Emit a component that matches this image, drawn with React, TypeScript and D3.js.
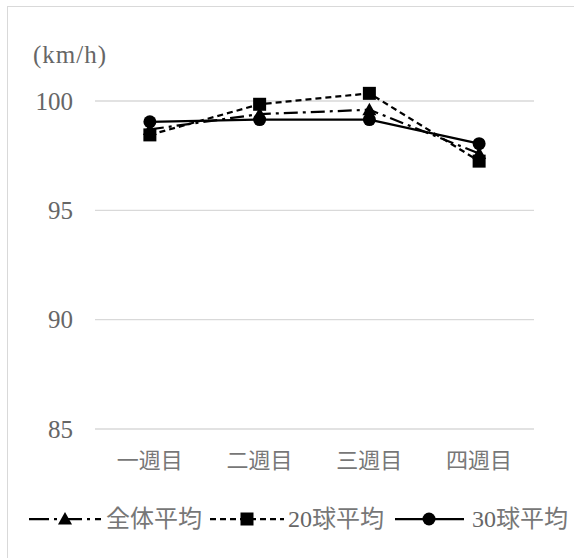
import React from "react";
import * as d3 from "d3";

const categories = ["一週目", "二週目", "三週目", "四週目"];
const seriesNames = ["全体平均", "20球平均", "30球平均"];
const overallAvg = [98.7, 99.4, 99.6, 97.6];
const avg20 = [98.45, 99.85, 100.35, 97.25];
const avg30 = [99.05, 99.15, 99.15, 98.05];
const yTicks = [85, 90, 95, 100];

const W = 574;
const H = 558;
const textColor = "#666666";
const cjkColor = "#777777";
const serif = "'Liberation Serif', 'Times New Roman', serif";
const cjk = "'Noto Sans CJK JP', sans-serif";

type Series = { name: string; values: number[]; dash: string; marker: "triangle" | "square" | "circle" };
const series: Series[] = [
  { name: seriesNames[0], values: overallAvg, dash: "14,5,3,5", marker: "triangle" },
  { name: seriesNames[1], values: avg20, dash: "6,4", marker: "square" },
  { name: seriesNames[2], values: avg30, dash: "", marker: "circle" },
];

function Marker({ kind, x, y }: { kind: string; x: number; y: number }) {
  if (kind === "circle") return <circle cx={x} cy={y} r={6.5} fill="#000" />;
  if (kind === "square") return <rect x={x - 6.5} y={y - 6.5} width={13} height={13} fill="#000" />;
  const s = 7;
  return <path d={`M${x},${y - s} L${x + s},${y + s * 0.8} L${x - s},${y + s * 0.8}Z`} fill="#000" />;
}

function MixedText({ text }: { text: string }) {
  const m = text.match(/^(\d*)(.*)$/)!;
  return (
    <>
      {m[1] ? (
        <tspan fontFamily={serif} fill={textColor}>
          {m[1]}
        </tspan>
      ) : null}
      <tspan fontFamily={cjk} fill={cjkColor}>
        {m[2]}
      </tspan>
    </>
  );
}

export default function App() {
  const x = d3.scaleBand<string>().domain(categories).range([95, 534]);
  const y = d3.scaleLinear().domain([85, 100]).range([429, 101]);
  const cx = (i: number) => x(categories[i])! + x.bandwidth() / 2;
  const line = d3
    .line<number>()
    .x((_, i) => cx(i))
    .y((d) => y(d));

  const legendItems = [
    { s: series[0], x0: 29, x1: 101, mx: 65, tx: 106, dash: "20,5,3,5" },
    { s: series[1], x0: 210, x1: 284, mx: 247, tx: 288, dash: "6,4" },
    { s: series[2], x0: 395, x1: 464, mx: 429, tx: 472, dash: "" },
  ];
  const ly = 519;

  return (
    <svg width={W} height={H} style={{ position: "absolute", left: 0, top: 0 }}>
      <rect x={0} y={0} width={W} height={H} fill="#fff" />
      <rect x={7.5} y={6.5} width={W + 10} height={H + 10} fill="#fff" stroke="#d9d9d9" strokeWidth={1} />
      <text x={33} y={63} fontFamily={serif} fontSize={25} letterSpacing={1} fill={textColor}>
        (km/h)
      </text>
      {yTicks.map((t) => (
        <g key={t}>
          <line x1={95} x2={534} y1={y(t)} y2={y(t)} stroke="#d9d9d9" strokeWidth={1.3} />
          <text x={73} y={y(t)} dy="0.35em" textAnchor="end" fontFamily={serif} fontSize={25} fill={textColor}>
            {t}
          </text>
        </g>
      ))}
      {categories.map((c, i) => (
        <text
          key={c}
          x={cx(i)}
          y={460}
          dy="0.35em"
          textAnchor="middle"
          fontFamily={cjk}
          fontSize={22}
          fill={cjkColor}
        >
          {c}
        </text>
      ))}
      {series.map((s) => (
        <g key={s.name}>
          <path d={line(s.values)!} fill="none" stroke="#000" strokeWidth={2.25} strokeDasharray={s.dash} />
          {s.values.map((v, i) => (
            <Marker key={i} kind={s.marker} x={cx(i)} y={y(v)} />
          ))}
        </g>
      ))}
      {legendItems.map(({ s, x0, x1, mx, tx, dash }) => (
        <g key={s.name}>
          <line x1={x0} x2={x1} y1={ly} y2={ly} stroke="#000" strokeWidth={2.25} strokeDasharray={dash} />
          <Marker kind={s.marker} x={mx} y={ly} />
          <text x={tx} y={ly} dy="0.35em" fontSize={24}>
            <MixedText text={s.name} />
          </text>
        </g>
      ))}
    </svg>
  );
}
